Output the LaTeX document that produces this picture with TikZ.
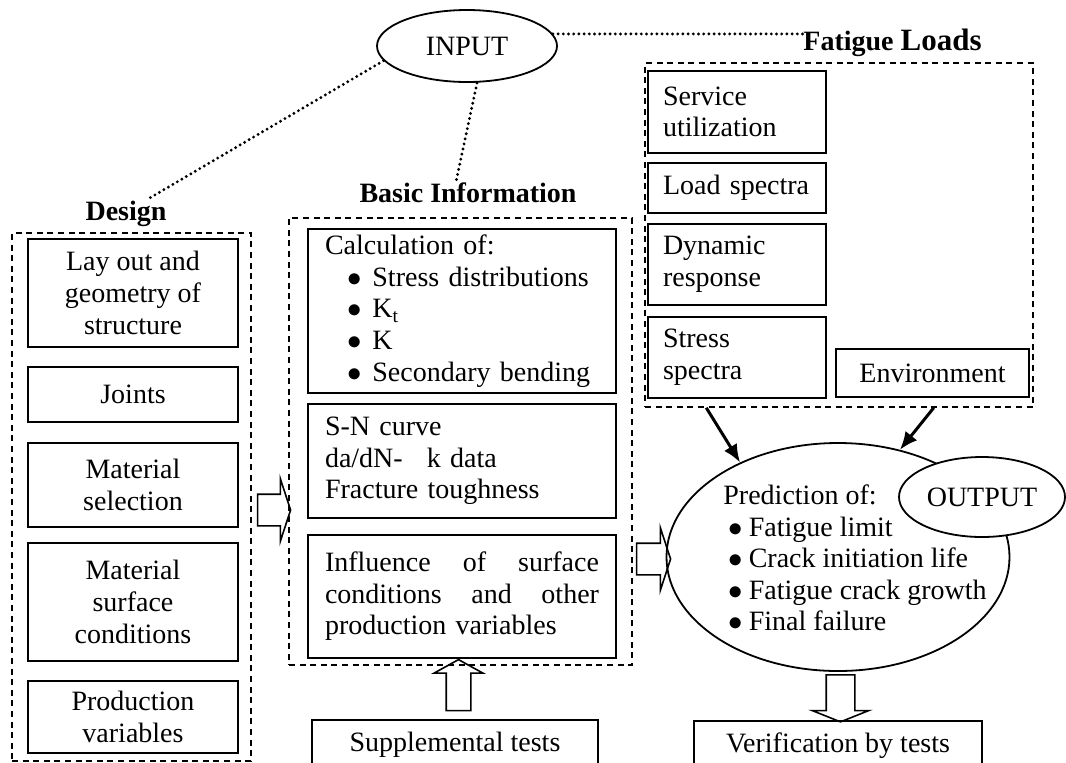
\documentclass[tikz,border=0pt]{standalone}
\usepackage{fontspec}
\setmainfont{Liberation Serif}
\usetikzlibrary{positioning}
\usetikzlibrary{shapes.geometric}
\usetikzlibrary{shapes.arrows}
\usetikzlibrary{arrows.meta}

\begin{document}
\begin{tikzpicture}
    [
    x=0.5pt, y=-0.5pt,
    every node/.style={font=\fontsize{14pt}{15.8pt}\selectfont},
    box/.style={rectangle,draw,line width=0.9pt,inner sep=0pt,align=center},
    lbox/.style={rectangle,draw,line width=0.9pt,inner xsep=8pt,inner ysep=0pt,align=left},
    dashbox/.style={rectangle,draw,line width=0.75pt,dash pattern=on 3pt off 2.3pt,inner sep=0pt},
    lbl/.style={font=\fontsize{14pt}{15.8pt}\selectfont\bfseries,inner sep=0pt},
    dotline/.style={line width=1.6pt,dash pattern=on 0pt off 2.6pt,line cap=round},
    blockarrow/.style={single arrow,draw,line width=0.8pt,inner xsep=0pt,minimum width=0pt,single arrow head indent=0pt},
    fatarrow/.style={line width=1.5pt,-{Latex[length=9pt,width=7.5pt]}},
    ]
    \useasboundingbox (0,0) rectangle (1066,762);
    \clip (0,0) rectangle (1066,762);

    % input and group labels
    \node (input) at (467,46) [ellipse,draw,line width=0.9pt,minimum width=90pt,minimum height=36pt,inner sep=0pt] {INPUT};
    \node (design) at (126,220) [lbl,anchor=base] {Design};
    \node (basic) at (468,202) [lbl,anchor=base] {Basic Information};
    \node (loads) at (803,50) [lbl,anchor=base west] {Fatigue {\fontsize{15.5pt}{16pt}\selectfont Loads}};

    % design
    \node (designbox) at (131.5,497) [dashbox,minimum width=119.5pt,minimum height=264pt] {};
    \node (layout) at (133,293) [box,minimum width=105pt,minimum height=54pt] {Lay out and\\geometry of\\structure};
    \node (joints) at (133,394.5) [box,minimum width=105pt,minimum height=27.5pt] {Joints};
    \node (matsel) at (133,485) [box,minimum width=105pt,minimum height=42pt] {Material\\selection};
    \node (matsurf) at (133,602) [box,minimum width=105pt,minimum height=59pt] {Material\\surface\\conditions};
    \node (prodvar) at (133,717) [box,minimum width=105pt,minimum height=36pt] {Production\\variables};

    % basic information
    \node (basicbox) at (460.5,441.5) [dashbox,minimum width=171.5pt,minimum height=223.5pt] {};
    \node (calc) at (462,311) [lbox,inner xsep=8.5pt,text width=137pt,minimum height=82pt]
      {Calculation of:\\
       \hspace*{11.3pt}$\bullet$\hspace{5.2pt}Stress distributions\\
       \hspace*{11.3pt}$\bullet$\hspace{5.2pt}K\textsubscript{t}\\
       \hspace*{11.3pt}$\bullet$\hspace{5.2pt}K\\
       \hspace*{11.3pt}$\bullet$\hspace{5.2pt}Secondary bending};
    \node (sncurve) at (462,461) [lbox,inner xsep=8.5pt,text width=137pt,minimum height=57pt]
      {S-N curve\\da/dN-\hspace{12pt}k data\\Fracture toughness};
    \node (influence) at (462,596.5) [lbox,inner xsep=8.5pt,text width=137pt,minimum height=61.5pt]
      {Influence\hfill of\hfill surface\\conditions\hfill and\hfill other\\production variables};

    % fatigue loads
    \node (loadsbox) at (839,235) [dashbox,minimum width=194pt,minimum height=172pt] {};
    \node (service) at (737,112) [lbox,inner xsep=7.5pt,text width=74pt,minimum height=41pt] {Service\\utilization};
    \node (loadspec) at (737,188) [lbox,inner xsep=7.5pt,text width=74pt,minimum height=25pt] {\mbox{Load spectra}};
    \node (dynamic) at (737,264.5) [lbox,inner xsep=7.5pt,text width=74pt,minimum height=40.5pt] {Dynamic\\response};
    \node (stress) at (737,357.5) [lbox,inner xsep=7.5pt,text width=74pt,minimum height=40.5pt] {Stress\\spectra};
    \node (environment) at (932.5,373) [box,minimum width=96.5pt,minimum height=24pt] {Environment};

    % output
    \node (pred) at (838,557) [ellipse,draw,line width=0.9pt,minimum width=171.5pt,minimum height=114pt] {};
    \node (predtext) at (723,558) [anchor=west,inner sep=0pt,align=left]
      {Prediction of:\\
       \hspace*{2.3pt}$\bullet$\hspace{3.2pt}Fatigue limit\\
       \hspace*{2.3pt}$\bullet$\hspace{3.2pt}Crack initiation life\\
       \hspace*{2.3pt}$\bullet$\hspace{3.2pt}Fatigue crack growth\\
       \hspace*{2.3pt}$\bullet$\hspace{3.2pt}Final failure};
    \node (output) at (982,497) [ellipse,draw,fill=white,line width=0.9pt,minimum width=83pt,minimum height=40pt,inner sep=0pt] {OUTPUT};

    \node (supp) at (455,745) [box,minimum width=143pt,minimum height=25pt] {Supplemental tests};
    \node (verif) at (838,745.5) [box,minimum width=144pt,minimum height=24.5pt] {Verification by tests};

    % block arrows
    \node (arr1) at (271.5,510) [blockarrow,minimum height=16.5pt,inner ysep=7.5pt,single arrow head extend=7.75pt,single arrow tip angle=143.7] {};
    \node (arr2) at (651,559) [blockarrow,minimum height=17pt,inner ysep=7.5pt,single arrow head extend=7.75pt,single arrow tip angle=143.7] {};
    \node (arr3) at (458.5,688.5) [blockarrow,rotate=90,minimum height=25.5pt,inner ysep=5.75pt,single arrow head extend=6pt,single arrow tip angle=122.1] {};
    \node (arr4) at (840.5,695.5) [blockarrow,rotate=-90,minimum height=23.5pt,inner ysep=6.75pt,single arrow head extend=7pt,single arrow tip angle=136.4] {};

    \draw [fatarrow] ([xshift=31pt]loadsbox.south west) to (pred.136);
    \draw [fatarrow] ([xshift=-50pt]loadsbox.south east) to (pred.60);

    \draw [dotline] (input.190) to ([xshift=10pt]design.north);
    \draw [dotline] ([xshift=5pt]input.south) to ([xshift=-6pt]basic.north);
    \draw [dotline] (input.8) to (input.8 -| loads.west);
\end{tikzpicture}
\end{document}
